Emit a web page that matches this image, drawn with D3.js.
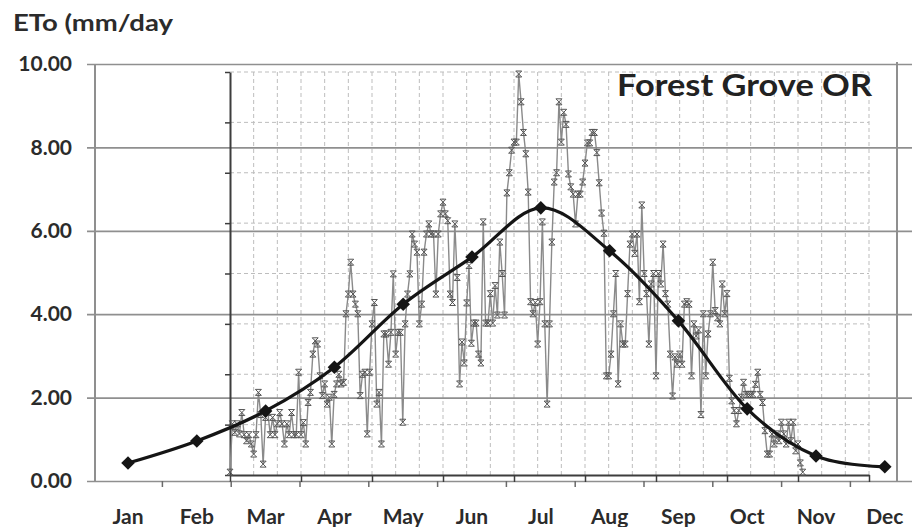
<!DOCTYPE html>
<html>
<head>
<meta charset="utf-8">
<script src="https://cdn.jsdelivr.net/npm/d3@7"></script>
<style>
  body { margin: 0; background: #fff; }
  svg { display: block; }
</style>
</head>
<body>
<svg id="chart" width="912" height="527"></svg>
<script>
// Monthly mean reference evapotranspiration (smoothed curve)
const months = ["Jan", "Feb", "Mar", "Apr", "May", "Jun", "Jul", "Aug", "Sep", "Oct", "Nov", "Dec"];
const monthlyETo = [0.43, 0.96, 1.68, 2.73, 4.24, 5.37, 6.55, 5.52, 3.84, 1.73, 0.60, 0.34];

// Daily ETo for the growing season, starting 1 March
const dailyETo = [
  0.07, 1.27, 1.06, 1.27, 1.02, 1.55, 1.00, 0.85, 1.00, 0.77,
  0.52, 1.00, 2.05, 1.50, 0.27, 1.43, 1.55, 1.00, 1.43, 1.00,
  1.27, 1.55, 1.27, 0.77, 1.27, 1.00, 1.55, 1.00, 1.00, 2.55,
  1.00, 1.30, 0.77, 1.80, 2.05, 3.00, 3.33, 3.25, 2.46, 1.97,
  2.26, 1.76, 1.93, 0.77, 2.00, 2.26, 2.50, 2.26, 2.30, 4.00,
  4.49, 5.28, 4.49, 4.24, 4.00, 1.97, 2.50, 2.55, 1.02, 2.55,
  3.75, 4.28, 1.76, 2.05, 0.77, 3.50, 3.50, 2.75, 3.54, 4.99,
  3.00, 3.54, 3.54, 1.31, 3.75, 4.49, 4.99, 5.98, 5.73, 5.53,
  3.75, 4.24, 5.53, 5.98, 6.23, 5.98, 5.98, 4.49, 5.98, 6.48,
  6.77, 6.48, 6.31, 4.49, 4.28, 6.23, 4.90, 2.26, 3.30, 2.78,
  4.27, 5.20, 3.27, 3.77, 3.77, 3.00, 2.78, 6.28, 3.77, 3.77,
  4.50, 3.77, 4.70, 3.97, 5.78, 5.00, 3.97, 7.00, 7.50, 8.06,
  8.26, 8.26, 9.95, 9.26, 8.50, 7.97, 7.02, 4.30, 4.00, 4.28,
  3.25, 4.30, 6.28, 3.75, 1.76, 3.75, 5.78, 7.27, 7.50, 9.26,
  8.26, 9.00, 8.70, 7.47, 7.15, 6.97, 6.23, 6.97, 6.97, 7.27,
  7.74, 8.24, 8.24, 8.50, 8.50, 8.00, 7.25, 6.50, 6.00, 2.46,
  2.46, 3.00, 4.00, 5.00, 2.26, 3.75, 3.25, 3.25, 4.50, 5.73,
  5.98, 5.50, 5.98, 4.30, 6.70, 5.00, 4.50, 3.25, 4.74, 5.00,
  2.46, 5.00, 4.74, 5.73, 4.50, 4.24, 3.00, 1.96, 2.93, 2.75,
  3.00, 2.75, 4.24, 4.30, 4.24, 2.46, 3.75, 3.45, 3.60, 1.50,
  4.00, 2.46, 3.50, 4.00, 5.28, 4.08, 3.90, 3.75, 4.74, 4.00,
  4.50, 2.40, 1.84, 1.60, 1.27, 1.60, 1.93, 2.30, 2.00, 2.00,
  2.00, 2.00, 2.25, 2.55, 2.00, 1.80, 1.10, 0.52, 0.52, 1.02,
  0.77, 1.02, 0.85, 1.31, 1.02, 0.77, 1.31, 0.85, 1.31, 0.60,
  0.77, 0.30, 0.07
];

const yTickValues = [0, 2, 4, 6, 8, 10];
const dayAxisMax = 270;       // day-of-season axis length
const dayTickStep = 30;       // tick every 30 days
const dayGridStep = 10;       // dashed grid every 10 days
const dayValueGridStep = 1.25;

const FONT = "Lato, 'Open Sans', sans-serif";
const TEXT = "#2b2b2b";
const GRID = "#8f8f8f";

const svg = d3.select("#chart");

// Scales: monthly chart and the overlaid daily chart
const yOuter = d3.scaleLinear().domain([0, 10]).range([481, 64]);
const xOuter = d3.scaleBand().domain(months).range([93.6, 919.2]);
const xDay = d3.scaleLinear().domain([0, dayAxisMax]).range([230, 869]);
const yDay = d3.scaleLinear().domain([0, 10]).range([475, 72]);

// Daily chart dashed grid
const gDash = svg.append("g")
  .attr("stroke", "#bdbdbd").attr("stroke-width", 1).attr("stroke-dasharray", "4,3").attr("fill", "none");
gDash.selectAll("line.h")
  .data(d3.range(dayValueGridStep, 10.001, dayValueGridStep))
  .join("line").attr("class", "h")
  .attr("x1", xDay(0)).attr("x2", xDay(dayAxisMax))
  .attr("y1", d => yDay(d)).attr("y2", d => yDay(d));
gDash.selectAll("line.v")
  .data(d3.range(dayGridStep, dayAxisMax + 0.1, dayGridStep))
  .join("line").attr("class", "v")
  .attr("x1", d => xDay(d)).attr("x2", d => xDay(d))
  .attr("y1", yDay(0)).attr("y2", yDay(10));

// Monthly chart horizontal gridlines and value labels
svg.append("g")
  .attr("transform", "translate(87,0)")
  .call(d3.axisLeft(yOuter).tickValues(yTickValues).tickFormat(d3.format(".2f"))
        .tickSize(-(925 - 87)).tickPadding(15))
  .call(g => {
    g.select(".domain").remove();
    g.attr("font-family", FONT).attr("font-size", 21).attr("font-weight", 700);
    g.selectAll("line").attr("stroke", GRID).attr("stroke-width", 1.7);
    g.selectAll("text").attr("fill", TEXT);
  });

// Frame lines of the plot area
svg.append("line").attr("x1", 95).attr("x2", 95).attr("y1", yOuter(10)).attr("y2", yOuter(0))
  .attr("stroke", GRID).attr("stroke-width", 2);
svg.append("line").attr("x1", 897).attr("x2", 897).attr("y1", 62).attr("y2", 482)
  .attr("stroke", GRID).attr("stroke-width", 2);

// Daily chart axes
svg.append("g")
  .attr("transform", `translate(0,${yDay(0)})`)
  .call(d3.axisBottom(xDay).tickValues(d3.range(0, dayAxisMax + 0.1, dayTickStep))
        .tickFormat("").tickSize(7).tickSizeOuter(0))
  .call(g => {
    g.select(".domain").attr("stroke", "#3d3d3d").attr("stroke-width", 2);
    g.selectAll("line").attr("stroke", "#3d3d3d").attr("stroke-width", 1.5);
  });
svg.append("g")
  .attr("transform", `translate(${xDay(0)},0)`)
  .call(d3.axisLeft(yDay).tickValues(d3.range(0, 10.001, dayValueGridStep))
        .tickFormat("").tickSize(5).tickSizeOuter(0))
  .call(g => {
    g.select(".domain").attr("stroke", "#3d3d3d").attr("stroke-width", 2);
    g.selectAll("line").attr("stroke", "#3d3d3d").attr("stroke-width", 1.5);
  });

// Monthly category axis: boundary ticks and labels
svg.append("g")
  .selectAll("line")
  .data(months.slice(1).map(m => xOuter(m)).concat([xOuter(months[11]) + xOuter.bandwidth()]))
  .join("line")
  .attr("x1", d => d).attr("x2", d => d)
  .attr("y1", yOuter(0)).attr("y2", yOuter(0) + 6)
  .attr("stroke", "#6a6a6a").attr("stroke-width", 1.5);
svg.append("g")
  .attr("transform", `translate(0,${yOuter(0)})`)
  .call(d3.axisBottom(xOuter).tickSize(0).tickPadding(28))
  .call(g => {
    g.select(".domain").remove();
    g.attr("font-family", FONT).attr("font-size", 21).attr("font-weight", 700);
    g.selectAll("text").attr("fill", TEXT);
  });

// Daily series: thin gray line with star markers
const dayLine = d3.line().x((d, i) => xDay(i)).y(d => yDay(d));
svg.append("path")
  .datum(dailyETo)
  .attr("d", dayLine)
  .attr("fill", "none").attr("stroke", "#8a8a8a").attr("stroke-width", 1.4);

const star = "M-3,-3L3,3M-3,3L3,-3M-3,-3L3,-3M-3,3L3,3";
svg.append("g")
  .selectAll("path")
  .data(dailyETo)
  .join("path")
  .attr("d", star)
  .attr("transform", (d, i) => `translate(${xDay(i)},${yDay(d)})`)
  .attr("fill", "none").attr("stroke", "#555").attr("stroke-width", 1);

// Monthly smoothed curve with diamond markers
const cx = m => xOuter(m) + xOuter.bandwidth() / 2;
const monthLine = d3.line()
  .x((d, i) => cx(months[i]))
  .y(d => yOuter(d))
  .curve(d3.curveCatmullRom.alpha(0));
svg.append("path")
  .datum(monthlyETo)
  .attr("d", monthLine)
  .attr("fill", "none").attr("stroke", "#151515").attr("stroke-width", 3.2);
svg.append("g")
  .selectAll("path")
  .data(monthlyETo)
  .join("path")
  .attr("d", d3.symbol(d3.symbolSquare, 92))
  .attr("transform", (d, i) => `translate(${cx(months[i])},${yOuter(d)}) rotate(45)`)
  .attr("fill", "#151515");

// Titles
svg.append("text")
  .attr("x", 13).attr("y", 31)
  .attr("font-family", FONT).attr("font-size", 22).attr("font-weight", 700).attr("fill", TEXT)
  .attr("textLength", 160).attr("lengthAdjust", "spacingAndGlyphs")
  .text("ETo (mm/day");
svg.append("text")
  .attr("x", 617).attr("y", 96)
  .attr("font-family", FONT).attr("font-size", 31).attr("font-weight", 700).attr("fill", "#222")
  .attr("textLength", 255).attr("lengthAdjust", "spacingAndGlyphs")
  .text("Forest Grove OR");
</script>
</body>
</html>
